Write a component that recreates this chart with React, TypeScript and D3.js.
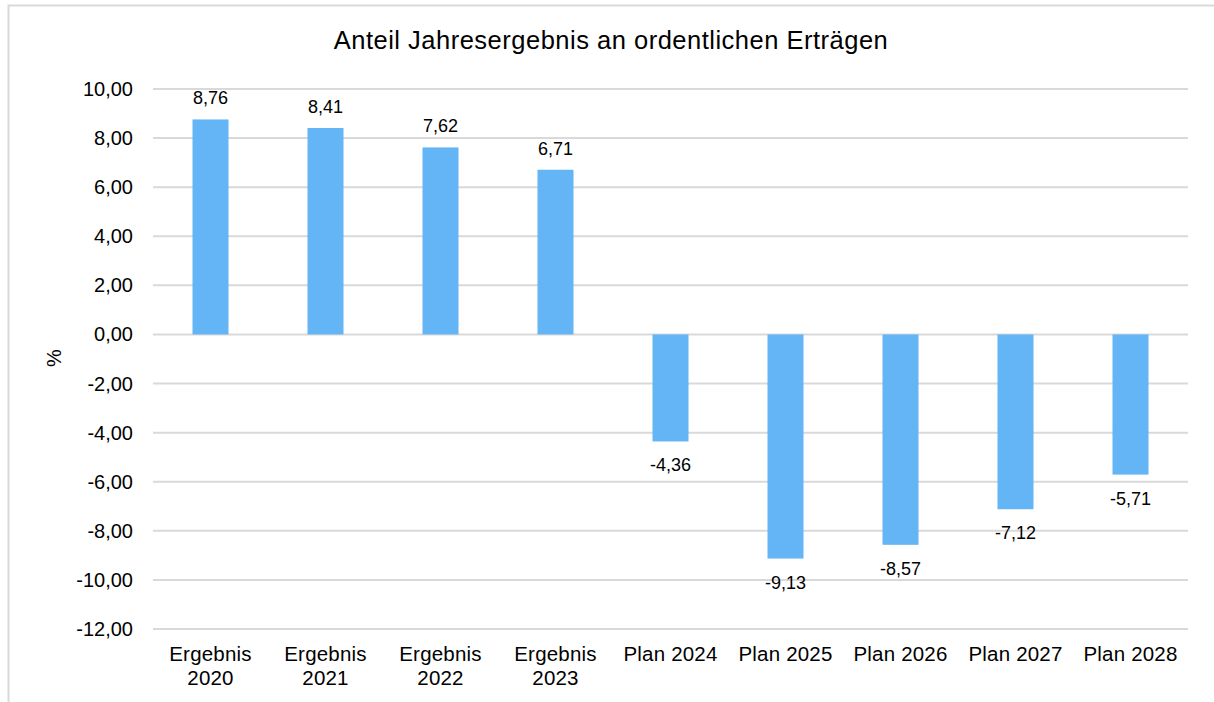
import React from "react";
import * as d3 from "d3";

const categories: string[][] = [
  ["Ergebnis", "2020"],
  ["Ergebnis", "2021"],
  ["Ergebnis", "2022"],
  ["Ergebnis", "2023"],
  ["Plan 2024"],
  ["Plan 2025"],
  ["Plan 2026"],
  ["Plan 2027"],
  ["Plan 2028"],
];
const values: number[] = [8.76, 8.41, 7.62, 6.71, -4.36, -9.13, -8.57, -7.12, -5.71];
const yTicks: number[] = [10, 8, 6, 4, 2, 0, -2, -4, -6, -8, -10, -12];
const title = "Anteil Jahresergebnis an ordentlichen Erträgen";
const yLabel = "%";

const W = 1214;
const H = 702;
const font = "'Liberation Sans', Arial, sans-serif";
const fmt = (v: number) => v.toFixed(2).replace(".", ",");

export default function App() {
  const x = d3
    .scaleBand<number>()
    .domain(values.map((_, i) => i))
    .range([153, 1188])
    .paddingInner(0.687)
    .paddingOuter(0.3435);
  const y = d3.scaleLinear().domain([-12, 10]).range([629, 89]);

  return (
    <svg
      width={W}
      height={H}
      style={{ position: "absolute", left: 0, top: 0, background: "#fff" }}
      fontFamily={font}
    >
      <rect x={8.5} y={5.5} width={W + 20} height={H + 20} fill="#fff" stroke="#d9d9d9" strokeWidth={2} />
      <text x={611} y={48.5} textAnchor="middle" fontSize={25.5} letterSpacing={0.5} fill="#000">
        {title}
      </text>
      {yTicks.map((t) => (
        <g key={t}>
          <line x1={153} x2={1188} y1={y(t)} y2={y(t)} stroke="#d9d9d9" strokeWidth={2} />
          <text x={133} y={y(t) + 7} textAnchor="end" fontSize={20} fill="#000">
            {fmt(t)}
          </text>
        </g>
      ))}
      <text
        transform={`translate(61,358) rotate(-90)`}
        textAnchor="middle"
        fontSize={20}
        fill="#000"
      >
        {yLabel}
      </text>
      {values.map((v, i) => {
        const bx = x(i)!;
        const bw = x.bandwidth();
        const y0 = y(0);
        const y1 = y(v);
        return (
          <g key={i}>
            <rect
              x={bx}
              y={Math.min(y0, y1)}
              width={bw}
              height={Math.abs(y1 - y0)}
              fill="#63b5f5"
            />
            <text
              x={bx + bw / 2}
              y={v >= 0 ? y1 - 15 : y1 + 30}
              textAnchor="middle"
              fontSize={18}
              fill="#000"
            >
              {fmt(v)}
            </text>
          </g>
        );
      })}
      {categories.map((lines, i) => (
        <text
          key={i}
          x={x(i)! + x.bandwidth() / 2}
          y={661}
          textAnchor="middle"
          fontSize={20.5}
          letterSpacing={0.2}
          fill="#000"
        >
          {lines.map((l, j) => (
            <tspan key={j} x={x(i)! + x.bandwidth() / 2} dy={j === 0 ? 0 : 24}>
              {l}
            </tspan>
          ))}
        </text>
      ))}
    </svg>
  );
}
